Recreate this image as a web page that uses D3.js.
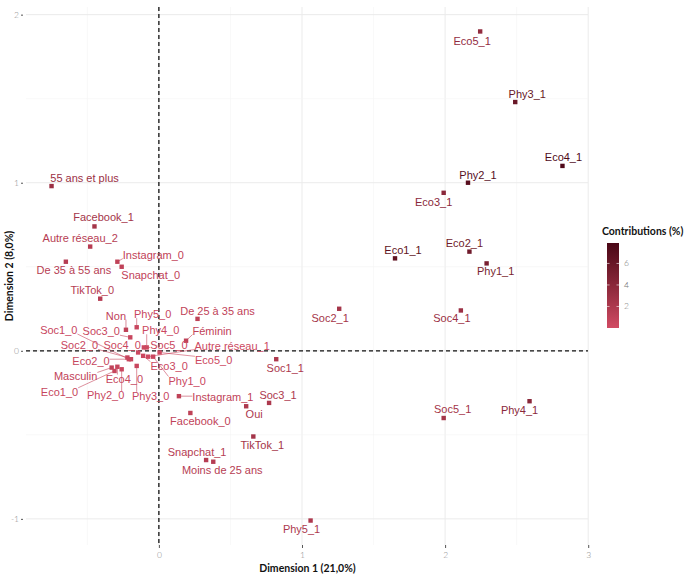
<!DOCTYPE html>
<html>
<head>
<meta charset="utf-8">
<script src="https://cdn.jsdelivr.net/npm/d3@7"></script>
<style>
  body { margin: 0; background: #fff; }
  svg { display: block; }
</style>
</head>
<body>
<svg id="chart" width="694" height="580"></svg>
<script>
// MCA factor map: category coordinates on dimensions 1 and 2, coloured by contribution
var labels = ["Eco5_1", "Phy3_1", "Eco4_1", "Phy2_1", "Eco3_1", "Eco2_1", "Phy1_1", "Eco1_1",
  "Soc2_1", "Soc4_1", "Soc1_1", "Soc3_1", "Soc5_1", "Phy4_1", "Phy5_1",
  "Oui", "TikTok_1", "Instagram_1", "Facebook_0", "Snapchat_1", "Moins de 25 ans",
  "55 ans et plus", "Facebook_1", "Autre réseau_2", "De 35 à 55 ans", "Instagram_0", "Snapchat_0", "TikTok_0",
  "Non", "Phy5_0", "Soc3_0", "Soc1_0", "Soc2_0", "Eco2_0", "Masculin", "Eco4_0", "Eco1_0", "Phy2_0",
  "Phy3_0", "Soc4_0", "Soc5_0", "Phy4_0", "Eco3_0", "Phy1_0", "Eco5_0", "Autre réseau_1",
  "De 25 à 35 ans", "Féminin"];

var dim1 = [2.245, 2.49, 2.82, 2.16, 1.99, 2.17, 2.29, 1.65,
  1.26, 2.11, 0.82, 0.77, 1.99, 2.59, 1.06,
  0.61, 0.66, 0.14, 0.22, 0.33, 0.38,
  -0.75, -0.45, -0.48, -0.65, -0.29, -0.26, -0.41,
  -0.23, -0.155, -0.20, -0.21, -0.22, -0.195, -0.33, -0.29, -0.31, -0.26,
  -0.155, -0.145, -0.105, -0.085, -0.11, -0.04, 0.005, -0.075,
  0.27, 0.19];

var dim2 = [1.90, 1.48, 1.10, 1.00, 0.94, 0.59, 0.52, 0.55,
  0.25, 0.24, -0.05, -0.31, -0.40, -0.30, -1.01,
  -0.33, -0.51, -0.27, -0.37, -0.65, -0.66,
  0.98, 0.74, 0.62, 0.53, 0.53, 0.50, 0.31,
  0.125, 0.14, 0.08, -0.05, -0.04, -0.05, -0.10, -0.095, -0.12, -0.11,
  -0.09, -0.01, 0.02, 0.02, -0.03, -0.035, -0.01, -0.035,
  0.19, 0.06];

var contrib = [3.5, 6.0, 7.6, 7.0, 4.0, 5.5, 5.0, 6.5,
  2.5, 3.0, 2.0, 2.0, 2.5, 4.0, 2.0,
  2.0, 2.5, 1.0, 1.0, 1.5, 1.5,
  3.0, 2.5, 1.5, 1.5, 1.0, 1.0, 1.5,
  1.0, 0.5, 0.5, 0.5, 0.5, 0.6, 1.0, 0.6, 0.6, 0.5,
  0.5, 0.3, 0.3, 0.3, 0.4, 0.4, 0.2, 0.2,
  1.0, 1.0];

var legendTicks = [2, 4, 6];
var xTicks = [0, 1, 2, 3];
var yTicks = [-1, 0, 1, 2];

// label offsets from the point, in pixels (repel layout)
var nudge = {
  "Eco5_1": [-8, 10], "Phy3_1": [12, -8], "Eco4_1": [1, -9], "Phy2_1": [10, -8], "Eco3_1": [-10, 9],
  "Eco2_1": [-5, -8], "Phy1_1": [9, 8], "Eco1_1": [8, -8], "Soc2_1": [-9, 9], "Soc4_1": [-9, 8],
  "Soc1_1": [9, 9], "Soc3_1": [9, -8], "Soc5_1": [9, -9], "Phy4_1": [-10, 9], "Phy5_1": [-9, 9],
  "Oui": [8, 8], "TikTok_1": [9, 9], "Instagram_1": [44, 1], "Facebook_0": [10, 8], "Snapchat_1": [-9, -8],
  "Moins de 25 ans": [9, 8], "55 ans et plus": [33, -8], "Facebook_1": [9, -9], "Autre réseau_2": [-10, -8],
  "De 35 à 55 ans": [8, 8], "Instagram_0": [36, -7], "Snapchat_0": [29, 8], "TikTok_0": [-8, -9],
  "Non": [-10, -14], "Phy5_0": [16, -13], "Soc3_0": [-29, -6], "Soc1_0": [-70, -29], "Soc2_0": [-48, -12],
  "Eco2_0": [-40, 2], "Masculin": [-36, 9], "Eco4_0": [7, 12], "Eco1_0": [-55, 21], "Phy2_0": [-16, 26],
  "Phy3_0": [14, 30], "Soc4_0": [-16, -7], "Soc5_0": [25, -2], "Phy4_0": [14, -17], "Eco3_0": [26, 10],
  "Phy1_0": [34, 24], "Eco5_0": [54, 8], "Autre réseau_1": [84, -11], "De 25 à 35 ans": [20, -8],
  "Féminin": [26, -10]
};

var data = labels.map(function(l, i) {
  return {label: l, x: dim1[i], y: dim2[i], c: contrib[i]};
});

var svg = d3.select("#chart"),
    panel = {left: 26, right: 588, top: 7, bottom: 545};

function expand(ext) {
  var pad = (ext[1] - ext[0]) * 0.05;
  return [ext[0] - pad, ext[1] + pad];
}

var x = d3.scaleLinear()
    .domain(expand(d3.extent(dim1)))
    .range([panel.left, panel.right]);
var y = d3.scaleLinear()
    .domain(expand(d3.extent(dim2)))
    .range([panel.bottom, panel.top]);

var cmax = 7.9;
var colour = d3.scaleLinear()
    .domain([0, cmax])
    .range(["#d14b63", "#4a0716"])
    .interpolate(d3.interpolateLab);

// grid
var grid = svg.append("g");
var xMinor = d3.range(-0.5, 3, 1), yMinor = d3.range(-0.5, 2, 1);
grid.selectAll(".vx").data(xTicks.concat(xMinor)).enter().append("line")
    .attr("x1", function(d) { return x(d); }).attr("x2", function(d) { return x(d); })
    .attr("y1", panel.top).attr("y2", panel.bottom)
    .attr("stroke", function(d) { return xTicks.indexOf(d) >= 0 ? "#ebebeb" : "#f3f3f3"; })
    .attr("stroke-width", function(d) { return xTicks.indexOf(d) >= 0 ? 1 : 0.6; });
grid.selectAll(".hy").data(yTicks.concat(yMinor)).enter().append("line")
    .attr("y1", function(d) { return y(d); }).attr("y2", function(d) { return y(d); })
    .attr("x1", panel.left).attr("x2", panel.right)
    .attr("stroke", function(d) { return yTicks.indexOf(d) >= 0 ? "#ebebeb" : "#f3f3f3"; })
    .attr("stroke-width", function(d) { return yTicks.indexOf(d) >= 0 ? 1 : 0.6; });

// axes
var xAxis = svg.append("g")
    .attr("transform", "translate(0," + panel.bottom + ")")
    .call(d3.axisBottom(x).tickValues(xTicks).tickSize(3).tickPadding(4).tickFormat(String));
var yAxis = svg.append("g")
    .attr("transform", "translate(" + (panel.left - 3) + ",0)")
    .call(d3.axisLeft(y).tickValues(yTicks).tickSize(2).tickPadding(2).tickFormat(String));
[xAxis, yAxis].forEach(function(a) {
  a.select(".domain").remove();
  a.selectAll(".tick line").attr("stroke", "#555");
  a.selectAll(".tick text").attr("fill", "#8a8a8a")
    .style("font-family", "'Lato', sans-serif").style("font-size", "8.5px").style("font-weight", 300);
});

// reference lines
svg.append("line")
    .attr("x1", x(0)).attr("x2", x(0)).attr("y1", panel.top).attr("y2", panel.bottom)
    .attr("stroke", "#111").attr("stroke-width", 1.3).attr("stroke-dasharray", "4,3");
svg.append("line")
    .attr("y1", y(0)).attr("y2", y(0)).attr("x1", panel.left).attr("x2", panel.right)
    .attr("stroke", "#111").attr("stroke-width", 1.3).attr("stroke-dasharray", "4,3");

// labels first (so we can measure them for leader lines)
var segs = svg.append("g");
var pts = svg.append("g");
var txt = svg.append("g")
    .style("font-family", "'Liberation Sans', Arial, sans-serif")
    .style("font-size", "11px");

var label = txt.selectAll("text").data(data).enter().append("text")
    .attr("x", function(d) { return x(d.x) + nudge[d.label][0]; })
    .attr("y", function(d) { return y(d.y) + nudge[d.label][1]; })
    .attr("dy", "0.35em")
    .attr("text-anchor", "middle")
    .attr("fill", function(d) { return colour(d.c); })
    .text(function(d) { return d.label; });

label.each(function(d) {
  var b = this.getBBox(),
      px = x(d.x), py = y(d.y),
      cx = Math.max(b.x, Math.min(px, b.x + b.width)),
      cy = Math.max(b.y + 2, Math.min(py, b.y + b.height - 2)),
      dist = Math.hypot(cx - px, cy - py);
  if (dist > 6) {
    segs.append("line")
      .attr("x1", px).attr("y1", py).attr("x2", cx).attr("y2", cy)
      .attr("stroke", colour(d.c)).attr("stroke-width", 0.6);
  }
});

pts.selectAll("rect").data(data).enter().append("rect")
    .attr("x", function(d) { return x(d.x) - 2.2; })
    .attr("y", function(d) { return y(d.y) - 2.2; })
    .attr("width", 4.4).attr("height", 4.4)
    .attr("fill", function(d) { return colour(d.c); });

// axis titles
svg.append("text")
    .attr("x", (panel.left + panel.right) / 2 + 0.5).attr("y", 572)
    .attr("text-anchor", "middle")
    .style("font-family", "'Lato', sans-serif").style("font-size", "10.5px").style("font-weight", 700)
    .attr("fill", "#111")
    .text("Dimension 1 (21,0%)");
svg.append("text")
    .attr("transform", "translate(13," + ((panel.top + panel.bottom) / 2) + ") rotate(-90)")
    .attr("text-anchor", "middle")
    .style("font-family", "'Lato', sans-serif").style("font-size", "10.5px").style("font-weight", 700)
    .attr("fill", "#111")
    .text("Dimension 2 (8,0%)");

// colour legend
var leg = {x: 607, top: 243, bottom: 328, w: 12};
var ly = d3.scaleLinear().domain([0, cmax]).range([leg.bottom, leg.top]);
var defs = svg.append("defs");
var grad = defs.append("linearGradient").attr("id", "cgrad")
    .attr("x1", 0).attr("y1", 1).attr("x2", 0).attr("y2", 0);
d3.range(0, 1.0001, 0.1).forEach(function(t) {
  grad.append("stop").attr("offset", t).attr("stop-color", colour(t * cmax));
});
svg.append("text")
    .attr("x", 602).attr("y", 235)
    .style("font-family", "'Lato', sans-serif").style("font-size", "10.5px").style("font-weight", 700)
    .attr("fill", "#111")
    .text("Contributions (%)");
svg.append("rect")
    .attr("x", leg.x).attr("y", leg.top).attr("width", leg.w).attr("height", leg.bottom - leg.top)
    .attr("fill", "url(#cgrad)");
var lt = svg.append("g");
legendTicks.forEach(function(v) {
  lt.append("line").attr("x1", leg.x).attr("x2", leg.x + 2.5)
    .attr("y1", ly(v)).attr("y2", ly(v)).attr("stroke", "#fff").attr("stroke-opacity", 0.6);
  lt.append("line").attr("x1", leg.x + leg.w - 2.5).attr("x2", leg.x + leg.w)
    .attr("y1", ly(v)).attr("y2", ly(v)).attr("stroke", "#fff").attr("stroke-opacity", 0.6);
  lt.append("text").attr("x", leg.x + leg.w + 5).attr("y", ly(v)).attr("dy", "0.35em")
    .style("font-family", "'Lato', sans-serif").style("font-size", "8.5px").style("font-weight", 300)
    .attr("fill", "#777").text(v);
});
</script>
</body>
</html>
